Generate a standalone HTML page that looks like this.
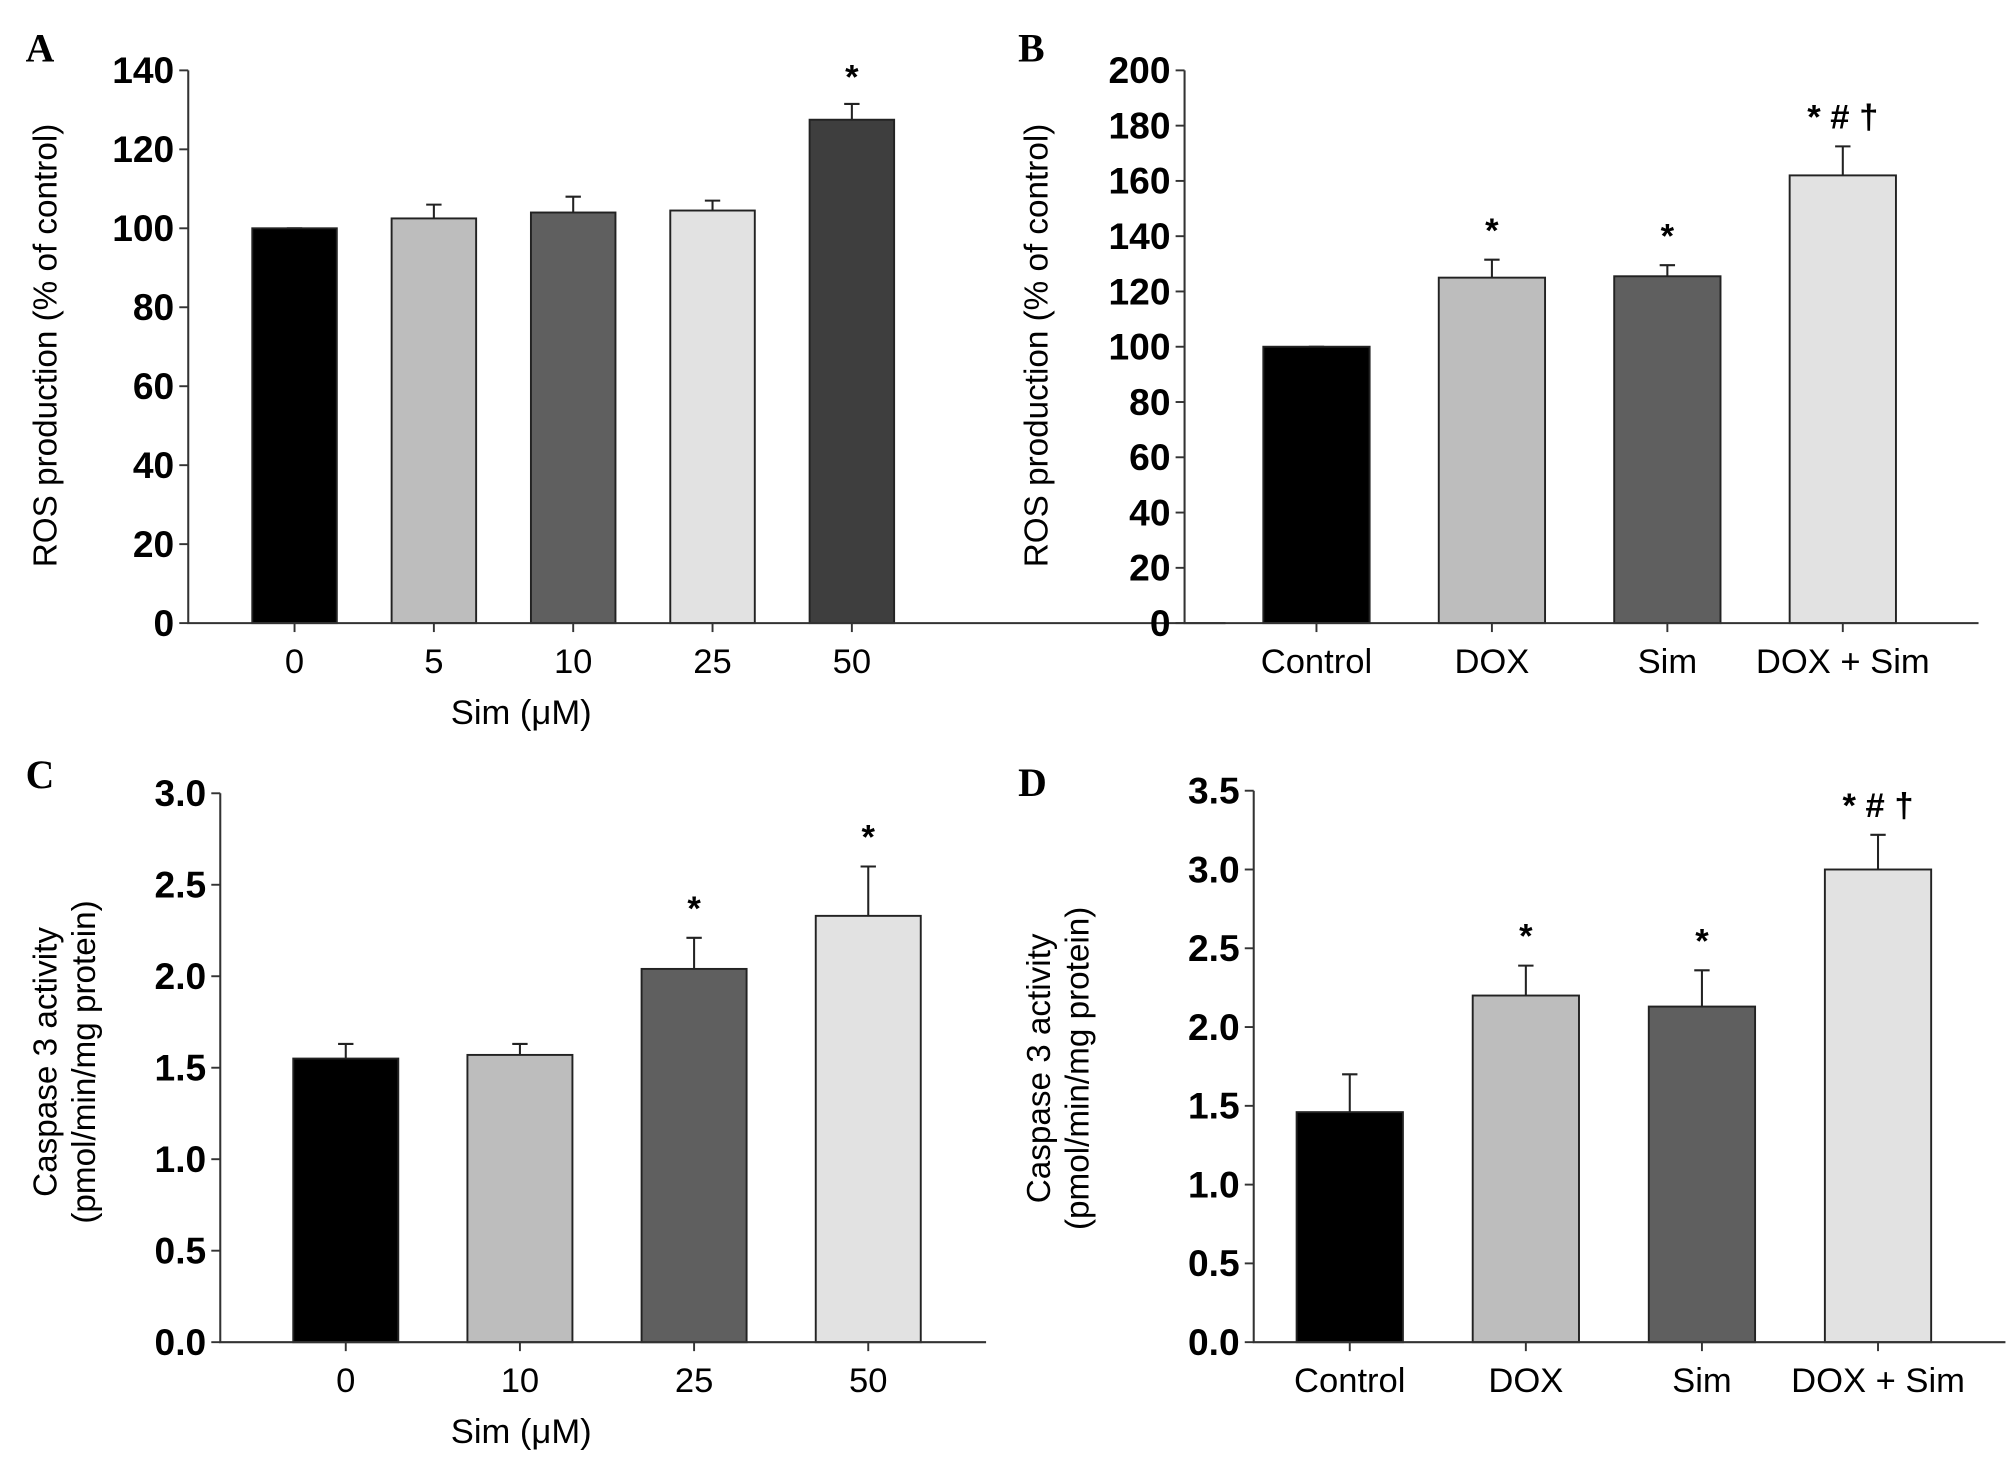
<!DOCTYPE html>
<html><head><meta charset="utf-8"><style>
html,body{margin:0;padding:0;background:#fff;}
svg{display:block;}
text{font-family:"Liberation Sans",Arial,sans-serif;}
text.letter{font-family:"Liberation Serif",serif;}
</style></head><body>
<svg id="fig" width="2008" height="1465" viewBox="0 0 1568 1145" preserveAspectRatio="none" xmlns="http://www.w3.org/2000/svg"></svg>
<script>
// Panel A
const catsA = ["0","5","10","25","50"];
const valsA = [100,102.5,104,104.5,127.5];
const errA = [100,106,108,107,131.5];
const sigA = ["","","","","*"];
const ticksA = [0,20,40,60,80,100,120,140];
// Panel B
const catsB = ["Control","DOX","Sim","DOX + Sim"];
const valsB = [100,125,125.5,162];
const errB = [100,131.5,129.5,172.5];
const sigB = ["","*","*","* # †"];
const ticksB = [0,20,40,60,80,100,120,140,160,180,200];
// Panel C
const catsC = ["0","10","25","50"];
const valsC = [1.55,1.57,2.04,2.33];
const errC = [1.63,1.63,2.21,2.60];
const sigC = ["","","*","*"];
const ticksC = ["0.0","0.5","1.0","1.5","2.0","2.5","3.0"];
// Panel D
const catsD = ["Control","DOX","Sim","DOX + Sim"];
const valsD = [1.46,2.2,2.13,3.0];
const errD = [1.70,2.39,2.36,3.22];
const sigD = ["","*","*","* # †"];
const ticksD = ["0.0","0.5","1.0","1.5","2.0","2.5","3.0","3.5"];

const NS="http://www.w3.org/2000/svg";
const svg=document.getElementById('fig');
function mk(tag,attrs,parent){const e=document.createElementNS(NS,tag);for(const k in attrs)e.setAttribute(k,attrs[k]);(parent||svg).appendChild(e);return e;}

function panel(p){
  const g=mk('g',{});
  
  
  const tnum=p.ticks.map(Number);
  const ymax=tnum[tnum.length-1];
  const y=v=>p.y0-(v/ymax)*(p.y0-p.yTop);
  const x=i=>p.c0+i*p.step;
  const L=mk('text',{x:p.lx,y:p.ly,'font-size':31,'font-weight':'bold','class':'letter'},g);
  L.textContent=p.id;
  
  
  p.vals.forEach((v,i)=>{
    const eb=mk('path',{d:`M${x(i)} ${y(v)}V${y(p.err[i])}M${x(i)-6} ${y(p.err[i])}H${x(i)+6}`,stroke:'#222','stroke-width':1.6,fill:'none'},g);
    
    
    const r=mk('rect',{x:x(i)-p.bw/2,y:y(v),width:p.bw,height:p.y0-y(v),fill:p.colors[i],stroke:'#222','stroke-width':1.5},g);
    
    
    if(p.sig[i]){
      const s=mk('text',{x:x(i),y:y(p.err[i])-p.sigOff,'text-anchor':'middle','font-size':27,'font-weight':'bold'},g);
      s.textContent=p.sig[i];
      
      
    }
    const t=mk('text',{x:x(i),y:p.y0+39,'text-anchor':'middle','font-size':27},g);
    t.textContent=p.cats[i];
    
    
    mk('line',{x1:x(i),x2:x(i),y1:p.y0,y2:p.y0+7,stroke:'#333','stroke-width':1.5},g);
  });
  const ax=mk('path',{d:`M${p.ax} ${p.yTop}V${p.y0}H${p.xEnd}`,stroke:'#333','stroke-width':1.6,fill:'none'},g);
  
  
  p.ticks.forEach(tk=>{
    const yy=y(Number(tk));
    mk('line',{x1:p.ax-7,x2:p.ax,y1:yy,y2:yy,stroke:'#333','stroke-width':1.5},g);
    const t=mk('text',{x:p.ax-11,y:yy+10,'text-anchor':'end','font-size':29,'font-weight':'bold'},g);
    t.textContent=tk;
    
    
  });
  p.ytitle.forEach((s,k)=>{
    const t=mk('text',{x:0,y:0,'text-anchor':'middle','font-size':26,transform:`translate(${p.ytx[k]},${p.yty}) rotate(-90)`},g);
    t.textContent=s;
    
    
  });
  if(p.xtitle){
    const t=mk('text',{x:p.xtx,y:p.y0+79,'text-anchor':'middle','font-size':27},g);
    t.textContent=p.xtitle;
    
    
  }
}
const cA=['#000','#bdbdbd','#5f5f5f','#e2e2e2','#3e3e3e'];
const cB=['#000','#bdbdbd','#5f5f5f','#e2e2e2'];
panel({id:'A',lx:20,ly:48,cats:catsA,vals:valsA,err:errA,sig:sigA,ticks:ticksA.map(String),colors:cA,
  ax:147,y0:487,yTop:55,xEnd:957,c0:230,step:108.8,bw:66,sigOff:12,ytitle:['ROS production (% of control)'],ytx:[44],yty:270,xtitle:'Sim (μM)',xtx:407});
panel({id:'B',lx:795,ly:48,cats:catsB,vals:valsB,err:errB,sig:sigB,ticks:ticksB.map(String),colors:cB,
  ax:925,y0:487,yTop:55,xEnd:1545,c0:1028,step:137,bw:83,sigOff:14,ytitle:['ROS production (% of control)'],ytx:[818],yty:270});
panel({id:'C',lx:20,ly:616,cats:catsC,vals:valsC,err:errC,sig:sigC,ticks:ticksC,colors:cB,
  ax:172,y0:1049,yTop:620,xEnd:770,c0:270,step:136,bw:82,sigOff:14,ytitle:['Caspase 3 activity','(pmol/min/mg protein)'],ytx:[44,74],yty:830,xtitle:'Sim (μM)',xtx:407});
panel({id:'D',lx:795,ly:622,cats:catsD,vals:valsD,err:errD,sig:sigD,ticks:ticksD,colors:cB,
  ax:979,y0:1049,yTop:618,xEnd:1566,c0:1054,step:137.5,bw:83,sigOff:14,ytitle:['Caspase 3 activity','(pmol/min/mg protein)'],ytx:[820,850],yty:835});
</script>
</body></html>
